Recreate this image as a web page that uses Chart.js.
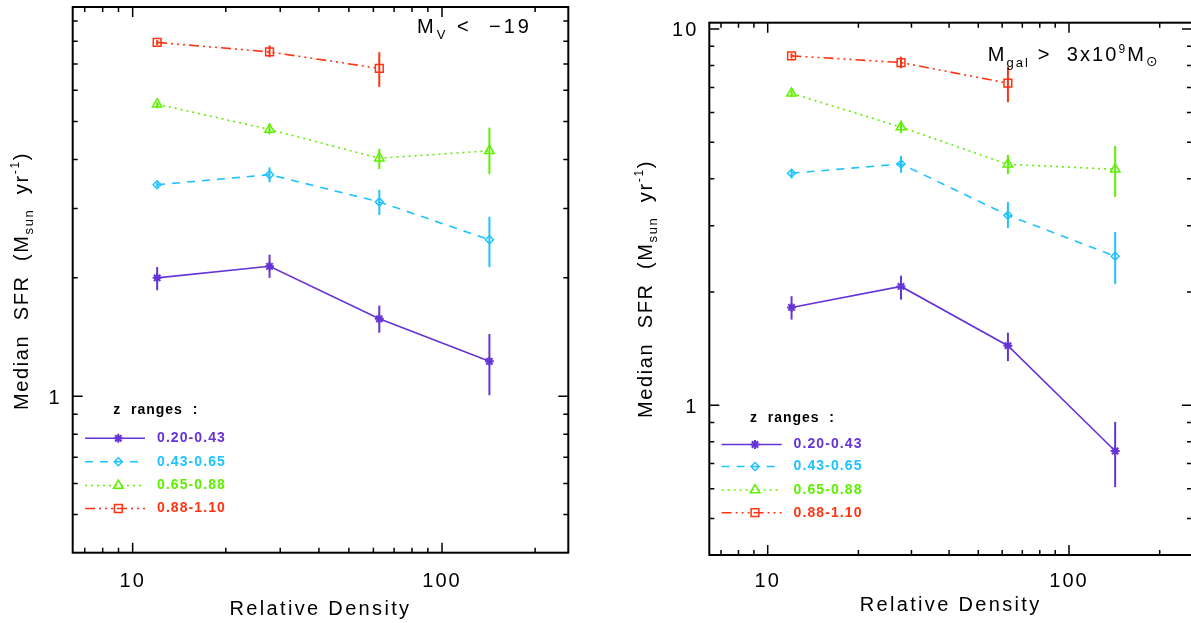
<!DOCTYPE html>
<html><head><meta charset="utf-8">
<script src="https://cdn.jsdelivr.net/npm/chart.js@4/dist/chart.umd.min.js"></script>
<style>
html,body{margin:0;padding:0;background:#fff;overflow:hidden}
#wrap{position:relative;width:1191px;height:623px;overflow:hidden;background:#fff}
canvas{position:absolute;top:0}
</style></head>
<body><div id="wrap">
<canvas id="c1" width="600" height="623" style="left:0px"></canvas>
<canvas id="c2" width="610" height="623" style="left:600px"></canvas>
</div>
<script>
// ---------- data ----------
const densities = [12.0, 27.7, 62.7, 142.3];
const zRanges = ['0.20-0.43', '0.43-0.65', '0.65-0.88', '0.88-1.10'];
const xTickValues = [10, 100];
const xTickLabels = ['10', '100'];
const xMinorValues = [7, 8, 9, 20, 30, 40, 50, 60, 70, 80, 90, 200];
const yMinorValues = [0.5, 0.6, 0.7, 0.8, 0.9, 2, 3, 4, 5, 6, 7, 8, 9];
const leftYTickValues = [1];
const leftYTickLabels = ['1'];
const rightYTickValues = [1, 10];
const rightYTickLabels = ['1', '10'];

// Left panel: M_V < -19
const magSfrZ1 = [2.00, 2.14, 1.574, 1.227];
const magLoZ1  = [1.86, 2.00, 1.45, 1.006];
const magHiZ1  = [2.13, 2.29, 1.70, 1.44];
const magSfrZ2 = [3.45, 3.66, 3.12, 2.50];
const magLoZ2  = [3.40, 3.50, 2.89, 2.13];
const magHiZ2  = [3.50, 3.82, 3.35, 2.86];
const magSfrZ3 = [5.53, 4.77, 4.03, 4.21];
const magLoZ3  = [5.40, 4.64, 3.78, 3.67];
const magHiZ3  = [5.60, 4.93, 4.26, 4.82];
const magSfrZ4 = [7.94, 7.51, 6.82];
const magLoZ4  = [7.82, 7.28, 6.12];
const magHiZ4  = [8.05, 7.80, 7.50];

// Right panel: M_gal > 3x10^9 Msun
const massSfrZ1 = [1.82, 2.07, 1.44, 0.756];
const massLoZ1  = [1.69, 1.91, 1.31, 0.606];
const massHiZ1  = [1.95, 2.21, 1.56, 0.903];
const massSfrZ2 = [4.14, 4.38, 3.20, 2.49];
const massLoZ2  = [4.01, 4.15, 2.96, 2.10];
const massHiZ2  = [4.24, 4.60, 3.47, 2.89];
const massSfrZ3 = [6.75, 5.49, 4.37, 4.24];
const massLoZ3  = [6.62, 5.29, 4.12, 3.58];
const massHiZ3  = [6.88, 5.71, 4.63, 4.89];
const massSfrZ4 = [8.49, 8.15, 7.18];
const massLoZ4  = [8.35, 7.87, 6.39];
const massHiZ4  = [8.62, 8.45, 7.95];

// ---------- styles ----------
const FONT = '"Liberation Sans", Arial, sans-serif';
const seriesStyle = [
  {color:'#6633d6', dash:[], pointStyle:'star', radius:4.5, bw:2},
  {color:'#1ec3ff', dash:[8,7], pointStyle:'rectRot', radius:4, bw:1.5},
  {color:'#5ef000', dash:[2,4], pointStyle:'triangle', radius:5.5, bw:1.5},
  {color:'#ff3311', dash:[10,4,2,4,2,4,2,4], pointStyle:'rect', radius:5.5, bw:1.5}
];

function richWidth(ctx, segs, sp){
  let w = 0;
  for (const s of segs){
    ctx.font = (s.weight||'normal') + ' ' + s.size + 'px ' + (s.family||FONT);
    if ('letterSpacing' in ctx) ctx.letterSpacing = '0px';
    w += ctx.measureText(s.t).width + sp * s.t.length;
  }
  return w;
}
function drawRich(ctx, segs, x, y, opt){
  opt = opt || {};
  let nChars = segs.reduce((a,s)=>a+s.t.length,0);
  let sp = opt.spacing || 0;
  if (opt.target){
    const nat = richWidth(ctx, segs, 0);
    sp = (opt.target - nat) / nChars;
  }
  const w = richWidth(ctx, segs, sp);
  let cx = x;
  if (opt.align === 'center') cx = x - w/2;
  else if (opt.align === 'right') cx = x - w;
  ctx.textAlign = 'left';
  ctx.textBaseline = opt.baseline || 'alphabetic';
  for (const s of segs){
    ctx.font = (s.weight||'normal') + ' ' + s.size + 'px ' + (s.family||FONT);
    ctx.fillStyle = s.color || opt.color || '#000';
    if ('letterSpacing' in ctx) ctx.letterSpacing = sp.toFixed(2) + 'px';
    ctx.fillText(s.t, cx, y + (s.dy||0));
    if ('letterSpacing' in ctx) ctx.letterSpacing = '0px';
    cx += ctx.measureText(s.t).width + sp * s.t.length;
  }
  if ('letterSpacing' in ctx) ctx.letterSpacing = '0px';
}
function marker(ctx, style, r, x, y){
  ctx.beginPath();
  if (style === 'star'){
    for (let k=0;k<4;k++){
      const a = k*Math.PI/4;
      ctx.moveTo(x - Math.cos(a)*r, y - Math.sin(a)*r);
      ctx.lineTo(x + Math.cos(a)*r, y + Math.sin(a)*r);
    }
  } else if (style === 'rectRot'){
    ctx.moveTo(x, y-r); ctx.lineTo(x+r, y); ctx.lineTo(x, y+r); ctx.lineTo(x-r, y); ctx.closePath();
  } else if (style === 'triangle'){
    ctx.moveTo(x, y-r);
    ctx.lineTo(x + r*Math.sin(2*Math.PI/3), y - r*Math.cos(2*Math.PI/3));
    ctx.lineTo(x + r*Math.sin(4*Math.PI/3), y - r*Math.cos(4*Math.PI/3));
    ctx.closePath();
  } else {
    const s = r*Math.SQRT1_2;
    ctx.rect(x-s, y-s, 2*s, 2*s);
  }
  ctx.stroke();
}

function makePanel(id, P){
  const series = P.series;
  const datasets = series.map((s, i) => ({
    label: zRanges[i],
    data: s.sfr.map((v, j) => ({x: densities[j], y: v})),
    errLo: s.lo, errHi: s.hi,
    borderColor: seriesStyle[i].color,
    borderWidth: 1.6,
    borderDash: seriesStyle[i].dash,
    pointStyle: seriesStyle[i].pointStyle,
    pointRadius: seriesStyle[i].radius,
    pointBorderWidth: seriesStyle[i].bw,
    pointBorderColor: seriesStyle[i].color,
    pointBackgroundColor: 'rgba(0,0,0,0)',
    fill: false, tension: 0, showLine: true
  }));
  const deco = {
    id: 'deco',
    beforeDatasetsDraw(chart){
      const ctx = chart.ctx, xs = chart.scales.x, ys = chart.scales.y;
      ctx.save();
      chart.data.datasets.forEach((ds, i) => {
        ctx.strokeStyle = seriesStyle[i].color;
        ctx.lineWidth = 2;
        ds.data.forEach((p, j) => {
          const x = xs.getPixelForValue(p.x);
          ctx.beginPath();
          ctx.moveTo(x, ys.getPixelForValue(ds.errLo[j]));
          ctx.lineTo(x, ys.getPixelForValue(ds.errHi[j]));
          ctx.stroke();
        });
      });
      ctx.restore();
    },
    afterDraw(chart){
      const ctx = chart.ctx, xs = chart.scales.x, ys = chart.scales.y, ca = chart.chartArea;
      ctx.save();
      // frame
      ctx.strokeStyle = '#000'; ctx.lineWidth = 2; ctx.setLineDash([]);
      ctx.strokeRect(ca.left, ca.top, ca.right - ca.left, ca.bottom - ca.top);
      ctx.lineWidth = 1.5;
      const tick = (v, len, axis) => {
        ctx.beginPath();
        if (axis === 'x'){
          const x = xs.getPixelForValue(v);
          ctx.moveTo(x, ca.bottom); ctx.lineTo(x, ca.bottom - len);
          ctx.moveTo(x, ca.top); ctx.lineTo(x, ca.top + len);
        } else {
          const y = ys.getPixelForValue(v);
          ctx.moveTo(ca.left, y); ctx.lineTo(ca.left + len, y);
          ctx.moveTo(ca.right, y); ctx.lineTo(ca.right - len, y);
        }
        ctx.stroke();
      };
      xTickValues.forEach(v => tick(v, 10, 'x'));
      xMinorValues.forEach(v => tick(v, 5, 'x'));
      P.yTickValues.forEach(v => tick(v, 10, 'y'));
      yMinorValues.forEach(v => tick(v, 5, 'y'));
      // tick labels
      xTickValues.forEach((v, k) => {
        drawRich(ctx, [{t:xTickLabels[k], size:20}], xs.getPixelForValue(v), ca.bottom + P.xLabelDy, {align:'center', spacing:2});
      });
      P.yTickValues.forEach((v, k) => {
        drawRich(ctx, [{t:P.yTickLabels[k], size:20}], ca.left - 11, ys.getPixelForValue(v) + 7.3, {align:'right', spacing:2});
      });
      // axis titles
      drawRich(ctx, [{t:'Relative Density', size:20}], (ca.left + ca.right)/2 + P.xTitleDx, ca.bottom + P.xTitleDy, {align:'center', target:182});
      ctx.save();
      ctx.translate(P.yTitleX, P.yTitleY);
      ctx.rotate(-Math.PI/2);
      drawRich(ctx, [
        {t:'Median  SFR  (M', size:20},
        {t:'sun', size:13, dy:5},
        {t:'  yr', size:20},
        {t:'-1', size:12, dy:-9},
        {t:')', size:20}
      ], 0, 0, {align:'center', target:258});
      ctx.restore();
      // annotation
      drawRich(ctx, P.note, P.noteX, P.noteY, {target:P.noteW});
      // legend
      const L = P.legend;
      drawRich(ctx, [{t:'z  ranges  :', size:14, weight:'bold'}], L.titleX, L.titleY, {baseline:'middle', target:85});
      zRanges.forEach((z, i) => {
        const st = seriesStyle[i], y = L.rows[i];
        ctx.strokeStyle = st.color; ctx.lineWidth = 1.5; ctx.setLineDash(st.dash);
        ctx.beginPath(); ctx.moveTo(L.x0, y); ctx.lineTo(L.x1, y); ctx.stroke();
        ctx.setLineDash([]); ctx.lineWidth = st.bw;
        marker(ctx, st.pointStyle, st.radius, L.mx, y);
        drawRich(ctx, [{t:z, size:14, weight:'bold', color:st.color}], L.tx, y, {baseline:'middle', target:69});
      });
      ctx.restore();
    }
  };
  return new Chart(document.getElementById(id), {
    type: 'line',
    data: {datasets},
    options: {
      responsive: false, animation: false, devicePixelRatio: 1,
      layout: {padding: P.padding},
      plugins: {legend: {display:false}, tooltip: {enabled:false}},
      scales: {
        x: {type:'logarithmic', min:6.4, max:256, display:false},
        y: {type:'logarithmic', min:0.4, max:P.yMax, display:false}
      }
    },
    plugins: [deco]
  });
}

makePanel('c1', {
  series: [
    {sfr:magSfrZ1, lo:magLoZ1, hi:magHiZ1},
    {sfr:magSfrZ2, lo:magLoZ2, hi:magHiZ2},
    {sfr:magSfrZ3, lo:magLoZ3, hi:magHiZ3},
    {sfr:magSfrZ4, lo:magLoZ4, hi:magHiZ4}
  ],
  padding: {left:72.7, right:31.7, top:5.7, bottom:70.3},
  yMax: 9.77,
  yTickValues: leftYTickValues, yTickLabels: leftYTickLabels,
  xLabelDy: 34.6, xTitleDx: 0, xTitleDy: 62,
  yTitleX: 28.3, yTitleY: 281,
  note: [{t:'M', size:20}, {t:'V', size:13, dy:6}, {t:' <  \u221219', size:20}],
  noteX: 417, noteY: 33.3, noteW: 115,
  legend: {titleX:113.3, titleY:410, x0:85, x1:145, mx:118.3, tx:157, rows:[438.3, 461.7, 485.5, 508.5]}
});

makePanel('c2', {
  series: [
    {sfr:massSfrZ1, lo:massLoZ1, hi:massHiZ1},
    {sfr:massSfrZ2, lo:massLoZ2, hi:massHiZ2},
    {sfr:massSfrZ3, lo:massLoZ3, hi:massHiZ3},
    {sfr:massSfrZ4, lo:massLoZ4, hi:massHiZ4}
  ],
  padding: {left:109.3, right:18, top:22.7, bottom:68},
  yMax: 10.4,
  yTickValues: rightYTickValues, yTickLabels: rightYTickLabels,
  xLabelDy: 32.3, xTitleDx: 0, xTitleDy: 56,
  yTitleX: 52, yTitleY: 289,
  note: [{t:'M', size:20}, {t:'gal', size:13, dy:6}, {t:' >  3x10', size:20}, {t:'9', size:12, dy:-8}, {t:'M', size:20}, {t:'\u2299', size:14, dy:5, family:'"DejaVu Sans", sans-serif'}],
  noteX: 387.7, noteY: 61, noteW: 172,
  legend: {titleX:150, titleY:418.3, x0:121.6, x1:181.6, mx:155, tx:193.6, rows:[444.5, 466.5, 490, 512.7]}
});
</script>
</body></html>
